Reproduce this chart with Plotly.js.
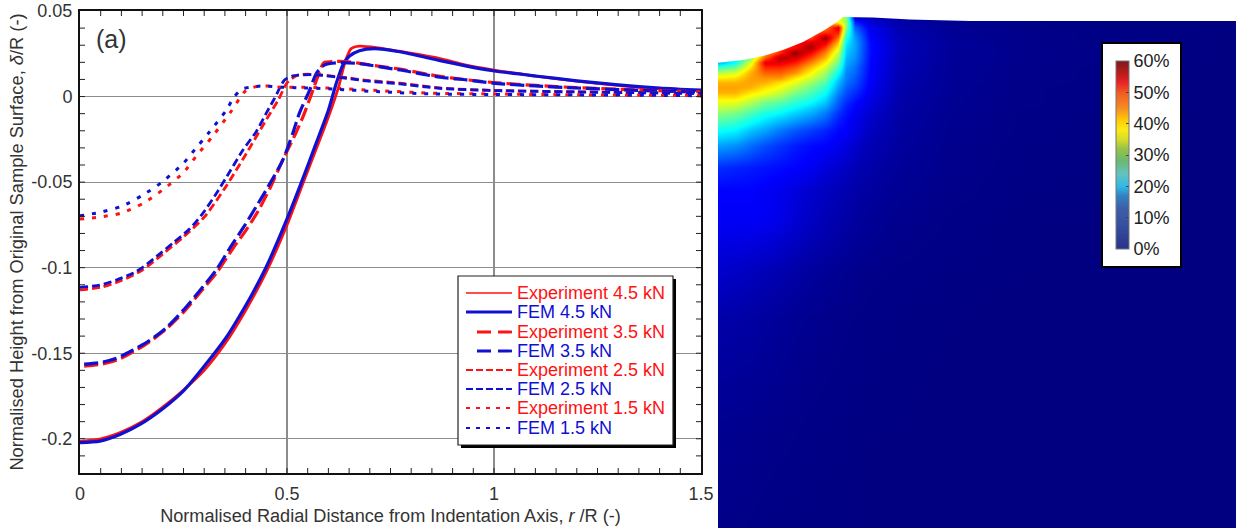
<!DOCTYPE html>
<html><head><meta charset="utf-8">
<script src="https://cdn.plot.ly/plotly-3.0.1.min.js"></script>
<style>html,body{margin:0;padding:0;background:#fff}#c{width:1236px;height:528px}</style></head>
<body><div id="c"></div>
<script>
// ---- panel (a): normalised surface profiles
const exp45R=[0,.05,.1,.15,.2,.25,.3,.35,.4,.45,.5,.535,.57,.6,.625,.64,.655,.675,.72,.77,.87,.93,1,1.1,1.2,1.3,1.4,1.5];
const exp45V=[-.2015,-.2,-.196,-.19,-.1815,-.1715,-.16,-.1445,-.125,-.1025,-.075,-.053,-.031,-.012,.006,.02,.028,.0295,.0285,.0265,.0222,.0185,.0155,.012,.009,.0065,.0045,.0035];
const fem45R=[0,.048,.0965,.145,.2,.25,.297,.354,.386,.418,.45,.5,.535,.57,.6,.619,.635,.651,.675,.711,.772,.87,.934,.998,1.1,1.2,1.3,1.4,1.5];
const fem45V=[-.2023,-.2014,-.1975,-.1916,-.1824,-.172,-.1585,-.1405,-.128,-.1145,-.0995,-.0715,-.05,-.0275,-.008,.0078,.0185,.0237,.0268,.028,.0262,.021,.0178,.0151,.012,.0092,.0068,.005,.0037];
const exp35R=[.01,.05,.09,.13,.17,.21,.25,.29,.33,.37,.4,.43,.46,.49,.52,.54,.56,.575,.589,.62,.65,.7,.773,.87,.934,.998,1.1,1.2,1.35,1.5];
const exp35V=[-.1575,-.1565,-.154,-.149,-.143,-.1355,-.126,-.1145,-.103,-.0885,-.0785,-.067,-.053,-.037,-.022,-.011,.002,.012,.0198,.0205,.0203,.0185,.016,.0118,.0098,.0082,.0065,.0052,.0038,.0028];
const fem35R=[.01,.048,.088,.129,.169,.209,.249,.289,.33,.362,.394,.426,.45,.49,.514,.53,.555,.571,.591,.627,.667,.773,.87,.934,.998,1.1,1.2,1.35,1.5];
const fem35V=[-.1564,-.1555,-.153,-.148,-.1424,-.135,-.125,-.1135,-.101,-.0885,-.0768,-.0642,-.0545,-.037,-.0214,-.0097,.0039,.0136,.0185,.0198,.0194,.0155,.0113,.0097,.0078,.0062,.005,.0036,.0026];
const exp25R=[0,.05,.1,.15,.2,.25,.3,.35,.4,.45,.48,.5,.525,.56,.644,.692,.773,.87,1,1.2,1.5];
const exp25V=[-.113,-.1115,-.1075,-.1015,-.092,-.082,-.0705,-.0535,-.034,-.0135,-.0015,.008,.0125,.013,.011,.0095,.0078,.005,.0036,.0028,.0018];
const fem25R=[0,.048,.088,.129,.153,.185,.225,.265,.297,.33,.362,.394,.426,.45,.47,.494,.514,.563,.644,.692,.773,.87,1,1.2,1.5];
const fem25V=[-.1115,-.1102,-.1072,-.1031,-.0995,-.0934,-.0855,-.0773,-.0681,-.0564,-.0438,-.0311,-.0204,-.0097,-.001,.0097,.0121,.0128,.0107,.0091,.0074,.0048,.0035,.0027,.0018];
const exp15R=[0,.048,.1,.153,.2,.25,.28,.32,.362,.398,.418,.45,.49,.52,.6,.72,.85,1,1.2,1.5];
const exp15V=[-.0716,-.0704,-.0681,-.0623,-.0545,-.0444,-.035,-.0233,-.0097,.0029,.0054,.0062,.0054,.0055,.005,.0035,.002,.0015,.001,.0005];
const fem15R=[0,.048,.1,.153,.2,.25,.277,.3135,.354,.37,.39,.41,.442,.49,.5234,.612,.716,.854,1,1.2,1.5];
const fem15V=[-.0697,-.0677,-.0642,-.0574,-.0496,-.0389,-.0311,-.0204,-.0078,-.001,.0043,.0054,.0062,.0054,.0052,.0044,.0029,.0015,.0012,.001,.0005];
const seriesNames=['Experiment 4.5 kN','FEM 4.5 kN','Experiment 3.5 kN','FEM 3.5 kN','Experiment 2.5 kN','FEM 2.5 kN','Experiment 1.5 kN','FEM 1.5 kN'];
const xTickVals=[0,.5,1,1.5];
const xTickText=['0','0.5','1','1.5'];
const yTickVals=[.05,0,-.05,-.1,-.15,-.2];
const yTickText=['0.05','0','-0.05','-0.1','-0.15','-0.2'];
const xMinorVals=[.05,.1,.15,.2,.25,.3,.35,.4,.45,.5,.55,.6,.65,.7,.75,.8,.85,.9,.95,1,1.05,1.1,1.15,1.2,1.25,1.3,1.35,1.4,1.45];
const yMinorVals=[.04,.03,.02,.01,0,-.01,-.02,-.03,-.04,-.05,-.06,-.07,-.08,-.09,-.1,-.11,-.12,-.13,-.14,-.15,-.16,-.17,-.18,-.19,-.2,-.21];
// ---- right panel: strain field (percent)
const fieldX=[718,735,750,765,780,795,810,825,838,846,855,870,900,950,1020,1236];
const fieldY=[17,22,27,32,37,42,47,52,57,62,67,72,77,82,87,92,97,102,107,112,117,130,145,167,190,220,270,320,420,528];
const col718=[18,18,18,18,18,18,18,18,18,18,26,33,38,42,43,42,39,36,34,31,29,23,17,10,7.5,7,4.5,2.4,1,.5];
const col735=[22,22,22,22,22,22,22,22,22,23,29,35,39,42,43,42,39,36,33,30,27.5,22,16,9.5,7.5,7,4.2,2.2,.9,.5];
const col750=[30,30,30,30,30,30,30,30,30,35,39,42,43,43,42,39,36,33,30,27,25,19,14,9,7.5,7,3.8,2,.8,.4];
const col765=[42,42,42,42,42,42,42,42,47,54,50,47,44,42,39,37,33,29,27,24,22,17,12,8.5,7,6.8,3.3,1.7,.7,.3];
const col780=[50,50,50,50,50,50,50,50,57,54,50,47,44,39,37,34,31,27.5,25,22.5,20,14.5,10.5,8,6.5,6,2.8,1.4,.6,.2];
const col795=[52,52,52,52,52,52,52,59,55,51,47,44,39,36,33,30,27,25,22.5,20,18,12.5,9,7.5,5.5,5,2.3,1.1,.5,.2];
const col810=[48,48,48,48,48,55,58,53,49,45,41,38,35,32,29,27,25,22.5,20,18,16,11,8,6.8,4.5,4,1.8,.9,.4,.1];
const col825=[45,45,45,50,58,54,49,45,42,38,35,32,30,27,25,23,21,19,17,15,13.5,9.5,7.5,5.5,3.8,3.2,1.4,.7,.3,.1];
const col838=[38,38,55,51,46,41,37.5,34,31.5,29,26,23,20.5,18.5,17,15.5,14,13,12,10.5,9.5,7.8,6.5,4.5,3.2,2.6,1.1,.6,.25,.1];
const col846=[30,32,30,27,24,22,20.5,19.5,18.5,17.5,16.5,15.5,15,14,13,12,11,10,9,8.5,8,7.3,5.8,4,2.8,2.2,1,.5,.2,.1];
const col855=[5,10,13,15,16.5,17,17,16.5,16,15,14,13.5,12.5,12,11,10,9,8,7.5,7,6.5,5.8,4.5,3.2,2.3,1.8,.8,.4,.2,.1];
const col870=[3.5,5,6.5,7,7.5,8,8,8,8,7.8,7.6,7.5,7.3,7,6.8,6.5,6,5.5,5.2,4.8,4.4,3.8,3.2,2.4,1.8,1.3,.6,.3,.1,0];
const col900=[2,2.5,2.8,3,3.2,3.4,3.4,3.4,3.3,3.2,3.1,3,2.9,2.8,2.7,2.6,2.5,2.4,2.3,2.2,2.1,1.9,1.7,1.4,1.1,.8,.4,.2,.1,0];
const col950=[1,1.1,1.2,1.3,1.4,1.5,1.5,1.5,1.5,1.4,1.4,1.3,1.3,1.3,1.2,1.2,1.1,1.1,1.1,1,1,.9,.8,.7,.6,.4,.2,.1,0,0];
const col1020=[.4,.5,.5,.6,.6,.7,.7,.7,.7,.7,.6,.6,.6,.6,.5,.5,.5,.5,.5,.4,.4,.4,.3,.3,.2,.1,.1,0,0,0];
const col1236=[0,0,0,0,0,0,0,0,0,0,0,0,0,0,0,0,0,0,0,0,0,0,0,0,0,0,0,0,0,0];
const fieldCols=[col718,col735,col750,col765,col780,col795,col810,col825,col838,col846,col855,col870,col900,col950,col1020,col1236];
const surfaceX=[718,743,763,783,803,823,837,843,873,910,943,970,1236];
const surfaceY=[62.7,60,56,50,42,31,22,17,17.5,19.5,20.7,21,21];
const barTickVals=[0,10,20,30,40,50,60];
const barTickText=['0%','10%','20%','30%','40%','50%','60%'];

const fieldZ=fieldY.map((_,r)=>fieldCols.map(c=>c[r]));
const jet=[[0,'rgb(0,0,128)'],[.125,'rgb(0,0,255)'],[.375,'rgb(0,255,255)'],[.625,'rgb(255,255,0)'],[.875,'rgb(255,0,0)'],[1,'rgb(128,0,0)']];
const muted=[[0,'rgb(40,50,140)'],[.133,'rgb(55,80,160)'],[.217,'rgb(60,95,170)'],[.283,'rgb(50,130,195)'],[.333,'rgb(50,185,230)'],[.4,'rgb(100,195,190)'],[.467,'rgb(105,185,115)'],[.533,'rgb(150,195,70)'],[.583,'rgb(215,220,40)'],[.633,'rgb(250,235,20)'],[.683,'rgb(255,205,5)'],[.75,'rgb(245,140,35)'],[.833,'rgb(240,90,35)'],[.883,'rgb(235,35,40)'],[.917,'rgb(200,30,30)'],[1,'rgb(125,25,25)']];

const RED='#ff1212', BLUE='#1010d2';
const dashes=['solid','solid','14px,5px','14px,5px','8px,4px','8px,4px','4px,8px','4px,8px'];
const widths=[2.8,3.2,3.2,3.2,2.8,2.8,3,3];
const xs=[exp45R,fem45R,exp35R,fem35R,exp25R,fem25R,exp15R,fem15R];
const ys=[exp45V,fem45V,exp35V,fem35V,exp25V,fem25V,exp15V,fem15V];
const traces=seriesNames.map((n,i)=>{const col=i%2?BLUE:RED;return{
  type:'scatter',mode:'lines',x:xs[i],y:ys[i],xaxis:'x',yaxis:'y',name:n,showlegend:false,
  line:{color:col,width:widths[i],dash:dashes[i],shape:'spline',smoothing:.7},hoverinfo:'skip'};});
// colour key (sits beneath the field, only its colour bar is seen)
traces.push({type:'heatmap',xaxis:'x2',yaxis:'y2',x:[1000,1010],y:[300,310],z:[[0,60],[0,60]],zmin:0,zmax:60,
  colorscale:muted,showlegend:false,hoverinfo:'skip',
  colorbar:{x:1106/1236,xanchor:'left',y:1-42/528,yanchor:'top',lenmode:'pixels',len:226,thickness:13,thicknessmode:'pixels',
    xpad:10,ypad:19,bgcolor:'rgba(0,0,0,0)',borderwidth:0,outlinecolor:'#777',outlinewidth:1,
    tickmode:'array',tickvals:barTickVals,ticktext:barTickText,ticks:'inside',ticklen:3,tickcolor:'#444',
    tickfont:{family:'Liberation Sans',size:18,color:'#222'}}});
traces.push({type:'heatmap',xaxis:'x2',yaxis:'y2',x:fieldX,y:fieldY,z:fieldZ,zmin:0,zmax:60,zsmooth:'best',
  colorscale:jet,showscale:false,showlegend:false,hoverinfo:'skip'});
traces.push({type:'scatter',mode:'lines',xaxis:'x2',yaxis:'y2',
  x:[718].concat(surfaceX,[1236,718]),y:[0].concat(surfaceY,[0,0]),fill:'toself',fillcolor:'#fff',
  line:{width:0,color:'#fff'},showlegend:false,hoverinfo:'skip'});

// small inward tick marks on all four sides
const tickLine={color:'#222',width:1};
const tickShapes=[];
xMinorVals.forEach(v=>{
  tickShapes.push({type:'line',xref:'x',yref:'y domain',x0:v,x1:v,y0:0,y1:5/462,line:tickLine});
  tickShapes.push({type:'line',xref:'x',yref:'y domain',x0:v,x1:v,y0:1-5/462,y1:1,line:tickLine});
});
yMinorVals.forEach(v=>{
  tickShapes.push({type:'line',yref:'y',xref:'x domain',y0:v,y1:v,x0:0,x1:5/621,line:tickLine});
  tickShapes.push({type:'line',yref:'y',xref:'x domain',y0:v,y1:v,x0:1-5/621,x1:1,line:tickLine});
});
// legend key, drawn as shapes and text
const keyRows=[293,312,332,351,370,389,408,428];
const keyStart=[466,466,477,477,466,466,466,466];
const keyDash=['solid','solid','14px,7px','14px,7px','7px,3px','7px,3px','4px,6px','4px,6px'];
const keyWidth=[1.6,2.8,2.8,2.8,1.8,1.8,2.2,2.2];
const px=v=>v/1236, py=v=>1-v/528;
const keyShapes=tickShapes.concat([
 {type:'rect',xref:'paper',yref:'paper',x0:px(461),x1:px(676),y0:py(448),y1:py(279),fillcolor:'#000',line:{width:0}},
 {type:'rect',xref:'paper',yref:'paper',x0:px(458),x1:px(673),y0:py(445),y1:py(276),fillcolor:'#fff',line:{color:'#222',width:1.2}},
 {type:'rect',xref:'paper',yref:'paper',x0:px(1102),x1:px(1181),y0:py(267),y1:py(43),fillcolor:'#fff',line:{color:'#000',width:2}}
]).concat(seriesNames.map((n,i)=>({type:'line',xref:'paper',yref:'paper',x0:px(keyStart[i]),x1:px(512),y0:py(keyRows[i]),y1:py(keyRows[i]),
   line:{color:i%2?BLUE:RED,width:keyWidth[i],dash:keyDash[i]}})));
const F='Liberation Sans';
const keyText=seriesNames.map((n,i)=>({xref:'paper',yref:'paper',x:px(516),y:py(keyRows[i]),xanchor:'left',yanchor:'middle',text:n,showarrow:false,
   font:{family:F,size:18,color:i%2?BLUE:RED},borderpad:0}));

const axBase={showline:true,linecolor:'#111',linewidth:2,mirror:true,ticks:'',
  showgrid:true,gridcolor:'#8c8c8c',gridwidth:1.2,zeroline:false,tickmode:'array',tickfont:{family:F,size:18,color:'#333'}};
const layout={width:1236,height:528,margin:{l:0,r:0,t:0,b:0},paper_bgcolor:'#fff',plot_bgcolor:'#fff',showlegend:false,
  xaxis:Object.assign({},axBase,{domain:[80/1236,701/1236],range:[0,1.5],anchor:'y',tickvals:xTickVals,ticktext:xTickText,ticklabelstandoff:3,
    title:{text:'Normalised Radial Distance from Indentation Axis, <i>r</i> /R (-)',font:{family:F,size:18.15,color:'#333'},standoff:7}}),
  yaxis:Object.assign({},axBase,{domain:[1-473/528,1-11/528],range:[-.22,.05],anchor:'x',tickvals:yTickVals,ticktext:yTickText,ticklabelstandoff:2,
    title:{text:'Normalised Height from Original Sample Surface, <i>δ</i>/R (-)',font:{family:F,size:18.3,color:'#333'},standoff:3}}),
  xaxis2:{domain:[718/1236,1],range:[718,1236],anchor:'y2',visible:false,fixedrange:true},
  yaxis2:{domain:[0,1],range:[528,0],anchor:'x2',visible:false,fixedrange:true},
  shapes:keyShapes,
  annotations:[{xref:'paper',yref:'paper',x:94/1236,y:1-39/528,xanchor:'left',yanchor:'middle',text:'(a)',showarrow:false,font:{family:F,size:25,color:'#333'}}].concat(keyText)
};
Plotly.newPlot('c',traces,layout,{staticPlot:true,displayModeBar:false});
</script></body></html>
